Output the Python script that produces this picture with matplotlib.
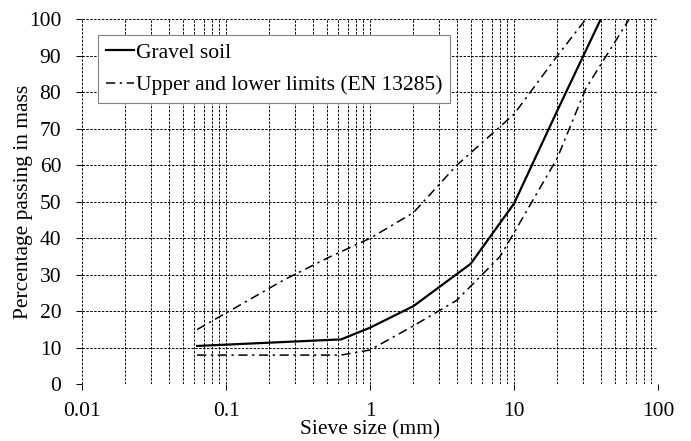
import matplotlib
matplotlib.use("Agg")
from matplotlib import pyplot as plt
from matplotlib.ticker import LogLocator, NullFormatter, FixedLocator
import numpy as np

# Gradation curve of the tested soil
sieve_soil = [0.063, 0.63, 1, 2, 5, 10, 20, 40]
pass_soil = [10.5, 12.3, 15.5, 21.4, 33.0, 49.5, 75.0, 100]

# EN 13285 envelope
sieve_upper = [0.063, 0.25, 0.5, 1, 2, 4, 10, 20, 31.5]
pass_upper = [15, 28.5, 34.5, 40, 47, 60, 74, 90, 100]
sieve_lower = [0.063, 0.63, 1, 2, 4, 8, 10, 20, 31.5, 63]
pass_lower = [8, 8, 9.4, 16, 23, 35, 41.5, 62, 81, 100]

x_ticks = [0.01, 0.1, 1, 10, 100]
x_ticklabels = ["0.01", "0.1", "1", "10", "100"]
y_ticks = list(range(0, 101, 10))

plt.rcParams['font.family'] = ['Liberation Serif', 'DejaVu Serif']
plt.rcParams['font.size'] = 15.5

fig = plt.figure(figsize=(6.91, 4.41), dpi=100)
ax = fig.add_axes([0.1187, 0.1286, 0.8335, 0.8276])

dd = (6, 3, 1.5, 3)
ax.plot(sieve_soil, pass_soil, color='black', lw=1.6, label='Gravel soil')
ax.plot(sieve_upper, pass_upper, color='black', lw=1.1, dashes=dd,
        label='Upper and lower limits (EN 13285)')
ax.plot(sieve_lower, pass_lower, color='black', lw=1.1, dashes=dd)

ax.set_xscale('log')
ax.set_xlim(0.01, 100)
ax.set_ylim(0, 100)
ax.xaxis.set_major_locator(FixedLocator(x_ticks))
ax.set_xticklabels(x_ticklabels)
ax.xaxis.set_minor_locator(LogLocator(base=10, subs=np.arange(2, 10)))
ax.xaxis.set_minor_formatter(NullFormatter())
ax.set_yticks(y_ticks)

ax.grid(True, which='both', axis='x', color='black', lw=0.7, ls=(0, (2.5, 1.5)))
ax.grid(True, which='major', axis='y', color='black', lw=0.7, ls=(0, (2.5, 1.5)))
for s in ax.spines.values():
    s.set_visible(False)
ax.tick_params(axis='both', which='major', direction='out', length=4,
               width=0.7)
ax.tick_params(axis='x', which='major', pad=9)
ax.tick_params(axis='y', which='major', pad=11)
ax.tick_params(axis='x', which='minor', length=0)

ax.set_xlabel("Sieve size (mm)", labelpad=-1)
ax.set_ylabel("Percentage passing in mass", labelpad=-3)

leg = ax.legend(loc='upper left', bbox_to_anchor=(0.028, 0.957), fancybox=False,
                framealpha=1, edgecolor='#808080', handlelength=1.3,
                handletextpad=0.1, borderpad=0.35, labelspacing=0.58,
                borderaxespad=0)
leg.get_frame().set_linewidth(0.8)

fig.savefig("out.png", dpi=100)
